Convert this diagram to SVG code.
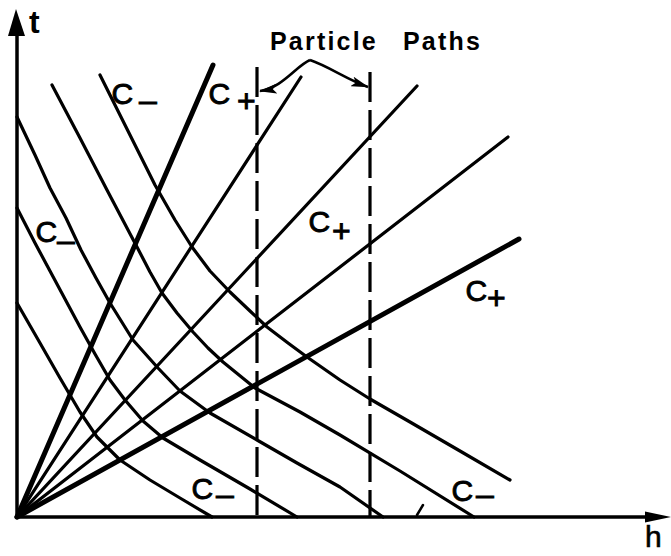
<svg xmlns="http://www.w3.org/2000/svg" width="671" height="556" viewBox="0 0 671 556">
<style>
  .ln{fill:none;stroke:#000;stroke-width:3.2;stroke-linecap:round;stroke-linejoin:round}
  .thick{stroke-width:5}
  .axis{fill:none;stroke:#000;stroke-width:3.5}
  .dash{fill:none;stroke:#000;stroke-width:3.2;stroke-dasharray:30 8}
  .arr{fill:none;stroke:#000;stroke-width:2.6;marker-end:url(#ah)}
  .lbl{font-family:"Liberation Sans",Arial,sans-serif;font-size:30px;fill:#000;stroke:#000;stroke-width:0.9px}
  .sub{font-size:32px}
  .title{font-family:"Liberation Sans",Arial,sans-serif;font-size:25px;font-weight:bold;letter-spacing:2.2px;fill:#000}
</style>
<defs>
  <marker id="ah" viewBox="0 0 18 10" refX="17" refY="5" markerWidth="18" markerHeight="10" markerUnits="userSpaceOnUse" orient="auto">
    <path d="M0,0 L18,5 L0,10 L4,5 z" fill="#000"/>
  </marker>
</defs>
<rect width="671" height="556" fill="#fff"/>

<g id="axes">
  <line class="axis" x1="17" y1="519" x2="17" y2="30"/>
  <path d="M16,9 L8,36 L25,36 z" fill="#000"/>
  <line class="axis" x1="15" y1="517" x2="650" y2="517"/>
  <path d="M671,517 L645,511.5 L645,522.5 z" fill="#000"/>
  <text id="label-t" x="29" y="33" class="lbl" style="font-weight:bold;font-size:32px;stroke-width:0">t</text>
  <text id="label-h" x="645" y="547" class="lbl" style="font-size:30px;stroke-width:0.6px">h</text>
</g>

<g id="c-plus">
  <line id="cp1" class="ln thick" x1="17" y1="517" x2="213" y2="65"/>
  <line id="cp2" class="ln" x1="17" y1="517" x2="301" y2="77"/>
  <line id="cp3" class="ln" x1="17" y1="517" x2="417" y2="86"/>
  <line id="cp4" class="ln" x1="17" y1="517" x2="508" y2="137"/>
  <line id="cp5" class="ln thick" x1="17" y1="517" x2="519" y2="239"/>
</g>

<g id="c-minus">
  <polyline id="cm1" class="ln" points="17,303 40,343 60,378 80,412 97,437 120,460 150,480 180,498 212,517"/>
  <polyline id="cm2" class="ln" points="17,208 35,243 50,271 65,299 80,327 95,354 110,380 125,400 143,421 163,438 200,460 250,489 297,517"/>
  <polyline id="cm3" class="ln" points="17,117 35,155 50,188 66,218 81,250 96,278 110,303 133,340 158,368 180,391 210,413 257,440 297,463 340,487 383,517"/>
  <polyline id="cm4" class="ln" points="52,85 80,138 107,190 137,247 150,272 162,293 177,313 193,332 208,348 223,362 255,388 300,412 340,435 400,471 474,517"/>
  <polyline id="cm5" class="ln" points="100,75 128,131 155,185 175,220 192,247 210,271 230,292 250,311 267,327 288,343 307,357 340,380 370,399 410,422 460,451 510,480"/>
</g>

<g id="particle-paths">
  <line class="dash" x1="257" y1="67" x2="257" y2="517"/>
  <line class="dash" x1="370" y1="72" x2="370" y2="517"/>
  <text class="title" x="270" y="50">Particle<tspan x="403">Paths</tspan></text>
  <g id="connectors">
    <path class="arr" d="M310,60 C296,66 282,88 260,91"/>
    <path class="arr" d="M310,60 C328,66 348,80 368,87"/>
  </g>
</g>

<g id="labels">
  <text class="lbl" x="111.5" y="104">C<tspan class="sub" x="139" y="111">–</tspan></text>
  <text class="lbl" x="208.5" y="104">C<tspan class="sub" x="237" y="112">+</tspan></text>
  <text class="lbl" x="35.5" y="242">C<tspan class="sub" x="57" y="251">–</tspan></text>
  <text class="lbl" x="308.5" y="232">C<tspan class="sub" x="332" y="242">+</tspan></text>
  <text class="lbl" x="465.5" y="301">C<tspan class="sub" x="487" y="309">+</tspan></text>
  <text class="lbl" x="191.5" y="499">C<tspan class="sub" x="216" y="505">–</tspan></text>
  <text class="lbl" x="451.5" y="501">C<tspan class="sub" x="476" y="505">–</tspan></text>
</g>

<line id="tick" x1="417" y1="515" x2="423" y2="505" stroke="#000" stroke-width="2.5" stroke-linecap="round"/>
</svg>
